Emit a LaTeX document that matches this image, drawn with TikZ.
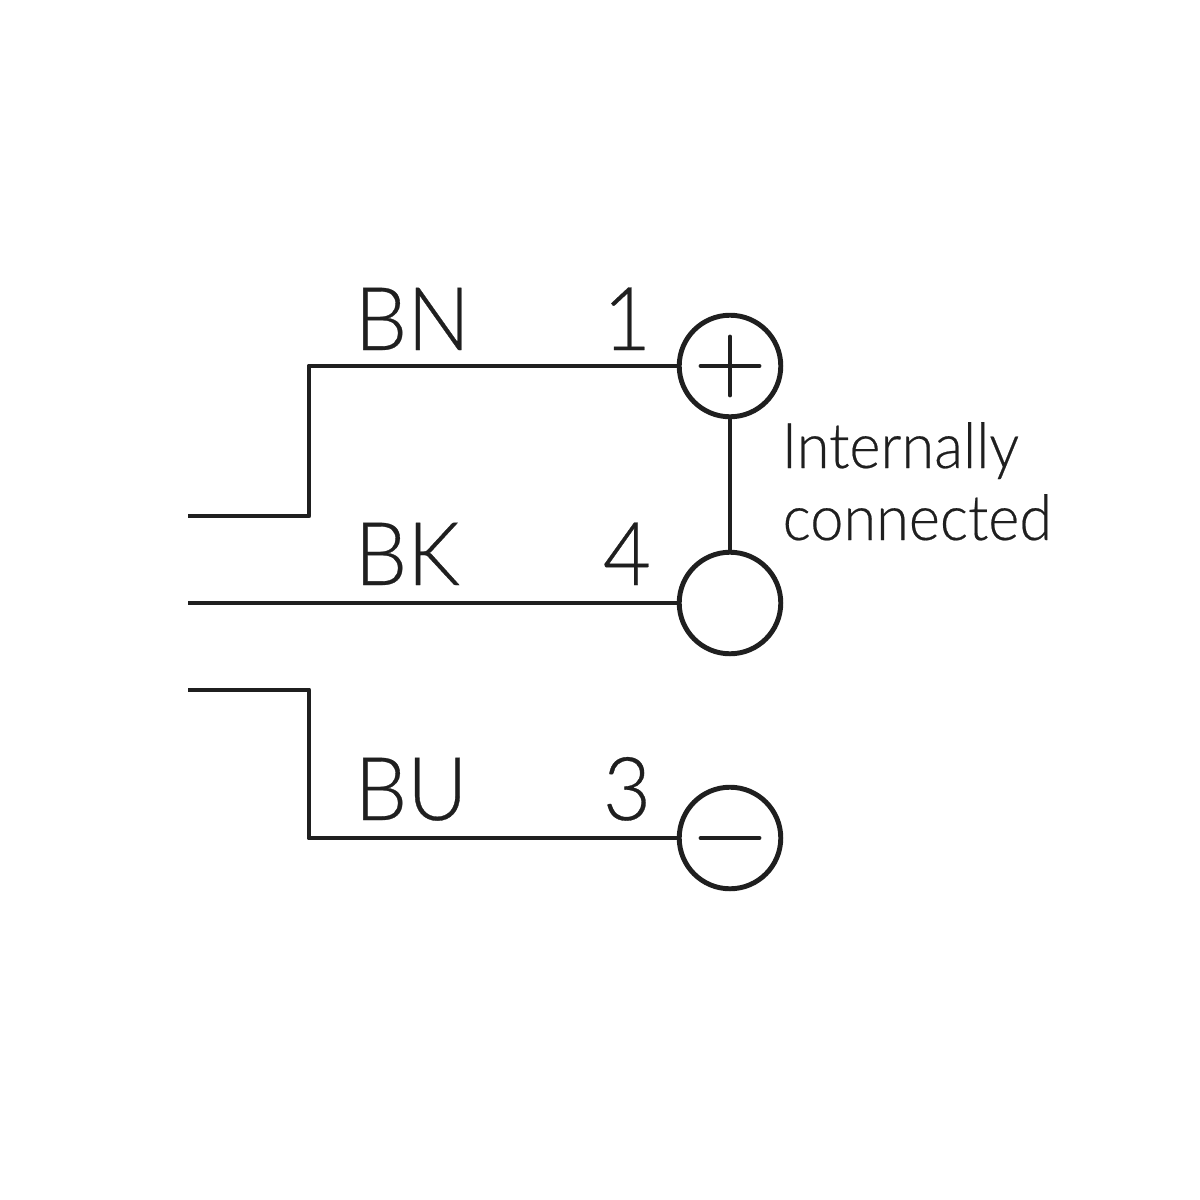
\documentclass[tikz,border=0pt]{standalone}
\usepackage{fontspec}
\setmainfont{Lato Light}[FakeStretch=0.945,FakeBold=0.35]
\usetikzlibrary{calc}
\usetikzlibrary{positioning}

\begin{document}
\begin{tikzpicture}[x=0.01cm,y=-0.01cm]
    \tikzstyle{wire}=[draw=black!88,line width=1.4pt,line join=round]
    \tikzstyle{sign}=[wire,line cap=round]
    \tikzstyle{pin}=[circle,draw=black!88,line width=1.4pt,minimum size=1.015cm,inner sep=0pt]
    \tikzstyle{wirelabel}=[font=\fontsize{25}{25}\selectfont,text=black!88,inner sep=0pt,anchor=base west]
    \tikzstyle{pinlabel}=[font=\fontsize{25}{25}\selectfont,text=black!88,inner sep=0pt,anchor=base]
    \tikzstyle{note}=[font=\fontsize{17.9}{17.9}\selectfont,text=black!88,inner sep=0pt,anchor=base west]

    \useasboundingbox (0,0) rectangle (1200,1200);

    \node[pin] (plus) at (730,366) {};
    \node[pin] (mid) at (730,603) {};
    \node[pin] (minus) at (730,838) {};

    \coordinate (brownend) at (188,516);
    \coordinate (brownbend) at (309,366);
    \coordinate (blackend) at (188,603);
    \coordinate (blueend) at (188,690);
    \coordinate (bluebend) at (309,838);

    \draw[wire] (brownend) -| (brownbend) -- (plus.west) ;
    \draw[wire] (blackend) -- (mid.west) ;
    \draw[wire] (blueend) -| (bluebend) -- (minus.west) ;
    \draw[wire] (plus.south) -- (mid.north) ;

    % signs inside the circles
    \draw[sign] ([xshift=-0.29cm]plus.center) -- ([xshift=0.29cm]plus.center) ;
    \draw[sign] ([yshift=-0.29cm]plus.center) -- ([yshift=0.29cm]plus.center) ;
    \draw[sign] ([xshift=-0.29cm]minus.center) -- ([xshift=0.29cm]minus.center) ;

    \node[wirelabel] (bn) at (354,350) {BN};
    \node[wirelabel] (bk) at (354,585) {BK};
    \node[wirelabel] (bu) at (354,820) {BU};

    \node[pinlabel] (one) at (627,350) {1};
    \node[pinlabel] (four) at (627,585) {4};
    \node[pinlabel] (three) at (627,820) {3};

    \node[note] (internally) at (781,468) {Internally};
    \node[note] (connected) at (782,540) {connected};
\end{tikzpicture}
\end{document}
